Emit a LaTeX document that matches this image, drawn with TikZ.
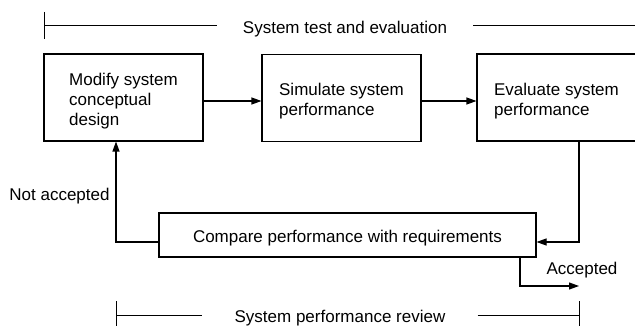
\documentclass[tikz,border=0pt]{standalone}
\usepackage{fontspec}
\setmainfont{Liberation Sans}
\usepackage{tikz}
\usetikzlibrary{arrows.meta}

\newcommand{\lowstrut}{\rule{0pt}{19.5pt}}

\tikzset{
  block/.style={draw, line width=1.1pt, minimum width=159pt, minimum height=87pt, align=left, inner sep=0pt},
  wide/.style={draw, line width=1.1pt, minimum width=377pt, minimum height=44pt, inner sep=0pt, execute at begin node=\lowstrut},
  flow/.style={line width=1.1pt, -{Triangle[length=10pt,width=7pt]}},
  bar/.style={line width=1pt},
  barlabel/.style={inner xsep=26pt, inner ysep=0pt, execute at begin node=\lowstrut}
}

\begin{document}
\begin{tikzpicture}[x=1pt, y=-1pt, font=\fontsize{17}{20}\selectfont]
	\clip (0,0) rectangle (635,326);
	% top bar
	\node[barlabel] (toptext) at (345,26) {System test and evaluation};
	\draw[bar] (44,12) -- (44,39);
	\draw[bar] (44,26) -- (toptext.west);
	\draw[bar] (toptext.east) -- (640,26);
	% blocks
	\node[block] (modify) at (123.5,97.5) {\lowstrut Modify system\\conceptual\\design};
	\node[block] (simulate) at (341.5,98) {\lowstrut Simulate system\\performance};
	\node[block] (evaluate) at (556.5,97.5) {\lowstrut Evaluate system\\performance};
	\node[wide] (compare) at (347.5,235) {Compare performance with requirements};
	% flow
	\draw[flow] ([yshift=-3.5pt]modify.east) -- ([yshift=-3pt]simulate.west);
	\draw[flow] ([yshift=-3pt]simulate.east) -- ([yshift=-3.5pt]evaluate.west);
	\draw[flow] ([xshift=22.5pt]evaluate.south) |- ([yshift=-7pt]compare.east);
	\draw[flow] ([yshift=-7pt]compare.west) -| ([xshift=-7.5pt]modify.south);
	\node (notacc) at (59.5,196.5) {Not accepted};
	\coordinate (out) at (579,286);
	\draw[flow] ([xshift=172.5pt]compare.south) |- (out);
	\node (acc) at (582,270.5) {Accepted};
	% bottom bar
	\node[barlabel, inner xsep=32pt] (bottext) at (340,315) {System performance review};
	\draw[bar] (116,301) -- (116,330);
	\draw[bar] (579,301) -- (579,330);
	\draw[bar] (116,315) -- (bottext.west);
	\draw[bar] (bottext.east) -- (579,315);
\end{tikzpicture}
\end{document}
